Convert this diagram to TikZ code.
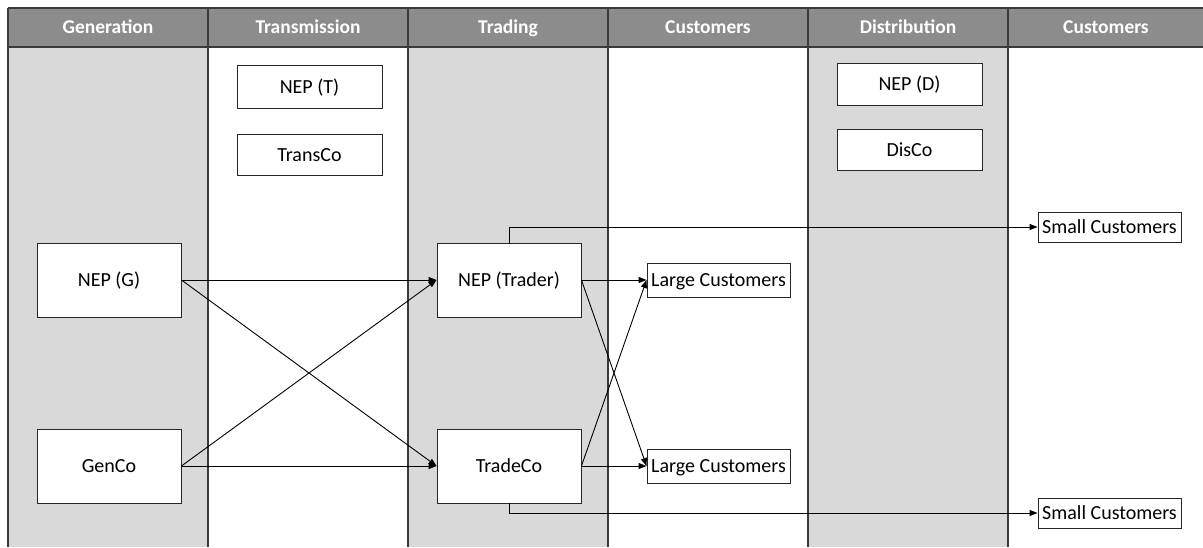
\documentclass[tikz,border=0pt]{standalone}
\usepackage{fontspec}
\setmainfont{Carlito}
\usetikzlibrary{arrows.meta}
\definecolor{lanegray}{HTML}{D9D9D9}
\definecolor{hdrfill}{HTML}{8C8C8C}
\definecolor{laneline}{HTML}{3A3A3A}
\definecolor{boxline}{HTML}{262626}
\begin{document}
\begin{tikzpicture}[x=1pt,y=-1pt,
  hdr/.style={font=\fontsize{19.5}{22}\selectfont\bfseries, text=white, inner sep=0pt, text height=14pt, text depth=2pt},
  box/.style={draw=boxline, fill=white, line width=0.9pt, inner sep=0pt, text height=14.5pt, text depth=1.5pt, font=\fontsize{20}{24}\selectfont},
  conn/.style={draw=black, line width=0.9pt, -{Triangle[length=8pt,width=6pt]}},
  laneln/.style={draw=laneline, line width=1.2pt}
]
\useasboundingbox (0,0) rectangle (1203,547);
% shaded lanes
\fill[lanegray] (8,47) rectangle (208,547);
\fill[lanegray] (408,47) rectangle (608,547);
\fill[lanegray] (808,47) rectangle (1008,547);
% header
\fill[hdrfill] (8,8) rectangle (1203,47);
\draw[laneln] (8,8) -- (1203,8);
\draw[laneln] (8,47) -- (1203,47);
\foreach \x in {8,208,408,608,808,1008} {
  \draw[laneln] (\x,8) -- (\x,547);
}
\node[hdr] (h1) at (108,27.5) {Generation};
\node[hdr] (h2) at (308,27.5) {Transmission};
\node[hdr] (h3) at (508,27.5) {Trading};
\node[hdr] (h4) at (708,27.5) {Customers};
\node[hdr] (h5) at (908,27.5) {Distribution};
\node[hdr] (h6) at (1106,27.5) {Customers};
% boxes
\node[box, minimum width=145pt, minimum height=43pt] (NEPT) at (309.5,86.5) {NEP (T)};
\node[box, minimum width=145pt, minimum height=41pt] (TransCo) at (309.5,154.5) {TransCo};
\node[box, minimum width=145pt, minimum height=42pt] (NEPD) at (909.5,84) {NEP (D)};
\node[box, minimum width=145pt, minimum height=41pt] (DisCo) at (909.5,149.5) {DisCo};
\node[box, minimum width=144pt, minimum height=74pt] (NEPG) at (109,280) {NEP (G)};
\node[box, minimum width=144pt, minimum height=74pt] (GenCo) at (109,466) {GenCo};
\node[box, minimum width=144pt, minimum height=74pt] (NEPTr) at (509,280) {NEP (Trader)};
\node[box, minimum width=144pt, minimum height=74pt] (TradeCo) at (509,466) {TradeCo};
\node[box, minimum width=143pt, minimum height=34pt] (LC1) at (718.5,280) {Large Customers};
\node[box, minimum width=143pt, minimum height=34pt] (LC2) at (718.5,466) {Large Customers};
\node[box, minimum width=143pt, minimum height=30pt] (SC1) at (1109.5,227) {Small Customers};
\node[box, minimum width=143pt, minimum height=30pt] (SC2) at (1109.5,513) {Small Customers};
% connectors
\draw[conn] (NEPG.east) -- (NEPTr.west);
\draw[conn] (NEPG.east) -- (TradeCo.west);
\draw[conn] (GenCo.east) -- (NEPTr.west);
\draw[conn] (GenCo.east) -- (TradeCo.west);
\draw[conn] (NEPTr.east) -- (LC1.west);
\draw[conn] (NEPTr.east) -- (LC2.west);
\draw[conn] (TradeCo.east) -- (LC1.west);
\draw[conn] (TradeCo.east) -- (LC2.west);
\draw[conn] (NEPTr.north) |- (SC1.west);
\draw[conn] (TradeCo.south) |- (SC2.west);
\end{tikzpicture}
\end{document}
